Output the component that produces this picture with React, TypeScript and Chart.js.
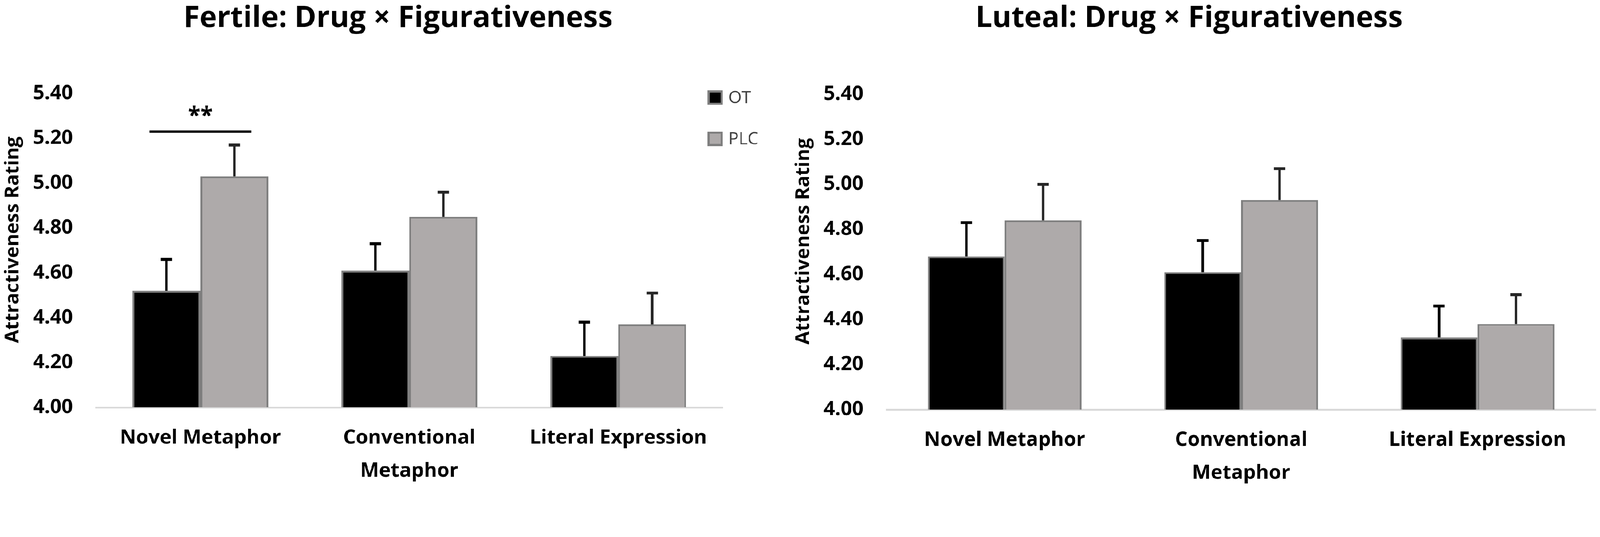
import { useEffect, useRef } from "react";
import { Chart, registerables } from "chart.js";

Chart.register(...registerables);

// categories and series
const categories = [["Novel Metaphor"], ["Conventional", "Metaphor"], ["Literal Expression"]];
const seriesNames = ["OT", "PLC"];
const yTickValues = [4.0, 4.2, 4.4, 4.6, 4.8, 5.0, 5.2, 5.4];

const fertileOT = [4.52, 4.61, 4.23];
const fertileOTErr = [0.14, 0.12, 0.15];
const fertilePLC = [5.03, 4.85, 4.37];
const fertilePLCErr = [0.14, 0.11, 0.14];

const lutealOT = [4.68, 4.61, 4.32];
const lutealOTErr = [0.15, 0.14, 0.14];
const lutealPLC = [4.84, 4.93, 4.38];
const lutealPLCErr = [0.16, 0.14, 0.13];

// significance marker on the fertile panel (category index, line value, star value)
const fertileSig = { index: 0, lineValue: 5.23, starValue: 5.32, text: "**" };

const FONT = "'Open Sans', 'Noto Sans', sans-serif";
const colors = { ot: "#000000", plc: "#aeaaaa", border: "#7f7f7f", axis: "#d9d9d9" };

const W = 4503;
const HEIGHT = 1374;

const errorBars = {
  id: "errorBars",
  afterDatasetsDraw(chart: any) {
    const { ctx } = chart;
    const y = chart.scales.y;
    chart.data.datasets.forEach((ds: any, di: number) => {
      const meta = chart.getDatasetMeta(di);
      meta.data.forEach((bar: any, i: number) => {
        const top = y.getPixelForValue(ds.data[i] + ds.errors[i]);
        ctx.save();
        ctx.strokeStyle = ds.errorColor;
        ctx.fillStyle = ds.errorColor;
        ctx.lineWidth = 7;
        ctx.beginPath();
        ctx.moveTo(bar.x, bar.y);
        ctx.lineTo(bar.x, top);
        ctx.stroke();
        ctx.fillRect(bar.x - 16, top - 4, 32, 8);
        ctx.restore();
      });
    });
  },
};

const decor = {
  id: "decor",
  afterDraw(chart: any, _args: any, opts: any) {
    const { ctx, chartArea } = chart;
    const y = chart.scales.y;
    ctx.save();
    ctx.fillStyle = "#000";
    ctx.textAlign = "center";
    ctx.textBaseline = "middle";
    ctx.font = `bold 83px ${FONT}`;
    ctx.fillText(opts.title, chart.width / 2, 52);

    // y axis title
    ctx.save();
    ctx.translate(opts.yTitleX, (chartArea.top + chartArea.bottom) / 2 - 30);
    ctx.rotate(-Math.PI / 2);
    ctx.font = `bold 54px ${FONT}`;
    ctx.fillText("Attractiveness Rating", 0, 0);
    ctx.restore();

    if (opts.legend) {
      const bx = chartArea.right - 43;
      const rows = [274, 390];
      seriesNames.forEach((name, i) => {
        const cy = rows[i];
        ctx.fillStyle = i === 0 ? colors.ot : colors.plc;
        ctx.fillRect(bx, cy - 20, 43, 41);
        ctx.strokeStyle = colors.border;
        ctx.lineWidth = 6;
        ctx.strokeRect(bx + 3, cy - 17, 37, 35);
        ctx.fillStyle = "#404040";
        ctx.textAlign = "left";
        ctx.font = `48px ${FONT}`;
        ctx.fillText(name, bx + 59, cy + 2);
      });
    }

    if (opts.sig) {
      const s = opts.sig;
      const a = chart.getDatasetMeta(0).data[s.index];
      const b = chart.getDatasetMeta(1).data[s.index];
      const cx = (a.x + b.x) / 2;
      const half = (b.x - a.x) * 0.75;
      const ly = y.getPixelForValue(s.lineValue);
      ctx.strokeStyle = "#000";
      ctx.lineWidth = 7;
      ctx.beginPath();
      ctx.moveTo(cx - half, ly);
      ctx.lineTo(cx + half, ly);
      ctx.stroke();
      ctx.fillStyle = "#000";
      ctx.textAlign = "center";
      ctx.font = `bold 64px ${FONT}`;
      ctx.fillText(s.text, cx, y.getPixelForValue(s.starValue) + 14);
    }
    ctx.restore();
  },
};

interface PanelProps {
  title: string;
  ot: number[];
  otErr: number[];
  plc: number[];
  plcErr: number[];
  left: number;
  width: number;
  yAxisWidth: number;
  padRight: number;
  padTop: number;
  xAxisHeight: number;
  yTitleX: number;
  scale: number;
  legend?: boolean;
  sig?: typeof fertileSig;
}

const Panel = (p: PanelProps) => {
  const ref = useRef<HTMLCanvasElement>(null);

  useEffect(() => {
    if (!ref.current) return;
    const chart = new Chart(ref.current, {
      type: "bar",
      data: {
        labels: categories,
        datasets: [
          {
            label: seriesNames[0],
            data: p.ot,
            errors: p.otErr,
            errorColor: "#000000",
            backgroundColor: colors.ot,
            borderColor: colors.border,
            borderWidth: 5,
            borderSkipped: false,
          } as any,
          {
            label: seriesNames[1],
            data: p.plc,
            errors: p.plcErr,
            errorColor: "#262626",
            backgroundColor: colors.plc,
            borderColor: colors.border,
            borderWidth: 5,
            borderSkipped: false,
          } as any,
        ],
      },
      options: {
        responsive: false,
        animation: false,
        devicePixelRatio: Math.max(1, (window.devicePixelRatio || 1) * p.scale),
        layout: { padding: { top: p.padTop, right: p.padRight, left: 0, bottom: 0 } },
        datasets: { bar: { categoryPercentage: 0.65, barPercentage: 1 } },
        scales: {
          x: {
            grid: { display: false, drawTicks: false },
            border: { display: true, color: colors.axis, width: 5 },
            ticks: {
              color: "#000",
              padding: 40,
              autoSkip: false,
              maxRotation: 0,
              font: { family: FONT, size: 56, weight: "bold", lineHeight: 1.65 },
            },
            afterFit: (scale: any) => {
              scale.height = p.xAxisHeight;
            },
          },
          y: {
            min: 4,
            max: 5.4,
            grid: { display: false, drawTicks: false },
            border: { display: false },
            afterBuildTicks: (scale: any) => {
              scale.ticks = yTickValues.map((v) => ({ value: v }));
            },
            ticks: {
              color: "#000",
              padding: 65,
              callback: (v: any) => Number(v).toFixed(2),
              font: { family: FONT, size: 56, weight: "bold" },
            },
            afterFit: (scale: any) => {
              scale.width = p.yAxisWidth;
            },
          },
        },
        plugins: {
          legend: { display: false },
          title: { display: false },
          tooltip: { enabled: false },
          decor: { title: p.title, yTitleX: p.yTitleX, legend: !!p.legend, sig: p.sig },
        } as any,
      },
      plugins: [errorBars, decor],
    });
    return () => chart.destroy();
  }, []);

  return (
    <canvas
      ref={ref}
      width={p.width}
      height={HEIGHT}
      style={{ position: "absolute", left: p.left, top: 0, width: p.width, height: HEIGHT }}
    />
  );
};

export default function App() {
  // lay the figure out in reference pixels and fit it to the viewport
  const scale = (window.innerWidth || W) / W;
  return (
    <div
      style={{
        position: "absolute",
        left: 0,
        top: 0,
        width: W,
        height: HEIGHT,
        background: "#fff",
        transform: `scale(${scale})`,
        transformOrigin: "0 0",
      }}
    >
      <Panel
        title="Fertile: Drug × Figurativeness"
        ot={fertileOT}
        otErr={fertileOTErr}
        plc={fertilePLC}
        plcErr={fertilePLCErr}
        left={0}
        width={2240}
        yAxisWidth={270}
        padRight={206}
        padTop={263}
        xAxisHeight={228}
        yTitleX={37}
        scale={scale}
        legend
        sig={fertileSig}
      />
      <Panel
        title="Luteal: Drug × Figurativeness"
        ot={lutealOT}
        otErr={lutealOTErr}
        plc={lutealPLC}
        plcErr={lutealPLCErr}
        left={2190}
        width={2313}
        yAxisWidth={305}
        padRight={12}
        padTop={265}
        xAxisHeight={222}
        yTitleX={72}
        scale={scale}
      />
    </div>
  );
}
